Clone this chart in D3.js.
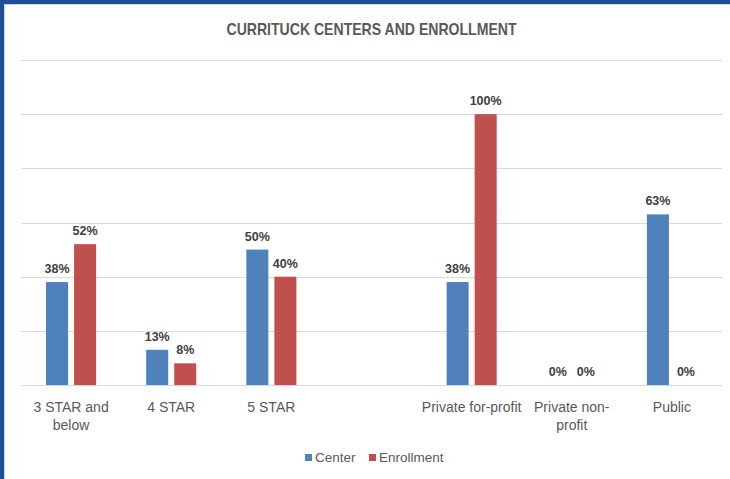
<!DOCTYPE html>
<html>
<head>
<meta charset="utf-8">
<script src="https://cdn.jsdelivr.net/npm/d3@7"></script>
<style>
  body { margin: 0; background: #fff; }
  #chart { width: 730px; height: 479px; }
</style>
</head>
<body>
<div id="chart"></div>
<script>
// Chart data
const categories = ["3 STAR and below", "4 STAR", "5 STAR", "", "Private for-profit", "Private non-profit", "Public"];
const tickLabels = [["3 STAR and", "below"], ["4 STAR"], ["5 STAR"], [""], ["Private for-profit"], ["Private non-", "profit"], ["Public"]];
const seriesNames = ["Center", "Enrollment"];
const centerValues = [38, 13, 50, null, 38, 0, 63];
const enrollmentValues = [52, 8, 40, null, 100, 0, 0];
const yTicks = [0, 20, 40, 60, 80, 100, 120];

const colors = { Center: "#4f81bd", Enrollment: "#c0504d" };

const width = 730;
const height = 479;
const margin = { top: 60, right: 8, bottom: 94, left: 21 };

const svg = d3.select("#chart")
    .append("svg")
    .attr("width", width)
    .attr("height", height);

// Frame edges (blue border on top and left)
svg.append("rect").attr("x", 0).attr("y", 0).attr("width", width).attr("height", 4).attr("fill", "#1f4e99");
svg.append("rect").attr("x", 0).attr("y", 0).attr("width", 4).attr("height", height).attr("fill", "#1f4e99");
svg.append("rect").attr("x", 4).attr("y", 4).attr("width", width).attr("height", 1).attr("fill", "#c9d3e3");
svg.append("rect").attr("x", 4).attr("y", 4).attr("width", 1).attr("height", height).attr("fill", "#c9d3e3");

// Scales
const x0 = d3.scaleBand()
    .domain(categories.map((d, i) => i))
    .range([margin.left, width - margin.right])
    .padding(0);

const x1 = d3.scaleBand()
    .domain(seriesNames)
    .range([0, x0.bandwidth()])
    .paddingInner(0.214)
    .paddingOuter(0.893);

const y = d3.scaleLinear()
    .domain([0, 120])
    .range([height - margin.bottom, margin.top]);

// Gridlines
svg.append("g")
    .selectAll("line")
    .data(yTicks)
    .enter()
    .append("line")
    .attr("x1", margin.left)
    .attr("x2", width - margin.right)
    .attr("y1", d => Math.round(y(d)) + 0.5)
    .attr("y2", d => Math.round(y(d)) + 0.5)
    .attr("stroke", "#d9d9d9")
    .attr("stroke-width", 1);

// Title (condensed to mimic the narrow original face)
svg.append("text")
    .attr("x", (margin.left + width - margin.right) / 2)
    .attr("y", 35)
    .attr("text-anchor", "middle")
    .attr("textLength", 290)
    .attr("lengthAdjust", "spacingAndGlyphs")
    .style("font-family", "'Liberation Sans', Arial, sans-serif")
    .style("font-weight", "bold")
    .style("font-size", "17px")
    .attr("fill", "#595959")
    .text("CURRITUCK CENTERS AND ENROLLMENT");

// Build rows from the arrays
const rows = categories.map((c, i) => ({
    idx: i,
    values: [
        { key: "Center", value: centerValues[i] },
        { key: "Enrollment", value: enrollmentValues[i] }
    ].filter(v => v.value !== null)
}));

const groups = svg.append("g")
    .selectAll("g")
    .data(rows)
    .enter()
    .append("g")
    .attr("transform", d => `translate(${x0(d.idx)},0)`);

groups.selectAll("rect")
    .data(d => d.values)
    .enter()
    .append("rect")
    .attr("x", d => x1(d.key))
    .attr("y", d => y(d.value))
    .attr("width", x1.bandwidth())
    .attr("height", d => y(0) - y(d.value))
    .attr("fill", d => colors[d.key]);

// Data labels
groups.selectAll("text")
    .data(d => d.values)
    .enter()
    .append("text")
    .attr("x", d => x1(d.key) + x1.bandwidth() / 2)
    .attr("y", d => y(d.value) - 9)
    .attr("text-anchor", "middle")
    .style("font-family", "'Liberation Sans', Arial, sans-serif")
    .style("font-weight", "bold")
    .style("font-size", "12.5px")
    .attr("fill", "#404040")
    .text(d => d.value + "%");

// Category axis labels
const xAxis = svg.append("g");
tickLabels.forEach((lines, i) => {
    const t = xAxis.append("text")
        .attr("x", x0(i) + x0.bandwidth() / 2)
        .attr("y", 411.5)
        .attr("text-anchor", "middle")
        .style("font-family", "'Liberation Sans', Arial, sans-serif")
        .style("font-size", "14px")
        .attr("fill", "#595959");
    lines.forEach((line, j) => {
        t.append("tspan")
            .attr("x", x0(i) + x0.bandwidth() / 2)
            .attr("dy", j === 0 ? 0 : 18.5)
            .text(line);
    });
});

// Legend
const legendX = [305, 369];
const legend = svg.append("g");
seriesNames.forEach((name, i) => {
    legend.append("rect")
        .attr("x", legendX[i])
        .attr("y", 454)
        .attr("width", 7)
        .attr("height", 7)
        .attr("fill", colors[name]);
    legend.append("text")
        .attr("x", legendX[i] + 10)
        .attr("y", 462)
        .style("font-family", "'Liberation Sans', Arial, sans-serif")
        .style("font-size", "13.5px")
        .attr("fill", "#595959")
        .text(name);
});
</script>
</body>
</html>
